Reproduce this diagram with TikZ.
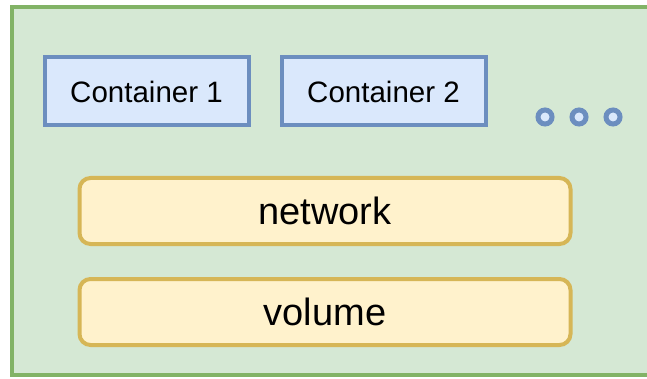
\documentclass[tikz,border=0pt]{standalone}
\usepackage{fontspec}
\setmainfont{Liberation Sans}
\definecolor{hostfill}{HTML}{D5E8D4}
\definecolor{hostline}{HTML}{82B366}
\definecolor{boxfill}{HTML}{DAE8FC}
\definecolor{boxline}{HTML}{6C8EBF}
\definecolor{resfill}{HTML}{FFF2CC}
\definecolor{resline}{HTML}{D6B656}
\begin{document}
\begin{tikzpicture}[x=1pt,y=-1pt,
  host/.style={draw=hostline,fill=hostfill,line width=4pt},
  container/.style={draw=boxline,fill=boxfill,line width=4pt,
    minimum width=204pt,minimum height=68pt,inner sep=0pt,
    font=\fontsize{29.5}{32}\selectfont},
  resource/.style={draw=resline,fill=resfill,line width=4pt,rounded corners=11pt,
    minimum width=491pt,minimum height=66pt,inner sep=0pt,
    font=\fontsize{38}{42}\selectfont},
  dot/.style={circle,draw=boxline,fill=boxfill,line width=5pt,minimum size=14pt,inner sep=0pt}]
\useasboundingbox (0,0) rectangle (647,379);
\clip (0,0) rectangle (647,379);
\fill[white] (0,0) rectangle (647,379);
% host area
\draw[host] (12,7) rectangle (670,375);
% containers
\node[container] (c1) at (146.5,91.5) {Container 1};
\node[container] (c2) at (383.5,91.5) {Container 2};
% more containers
\node[dot] (d1) at (545,117) {};
\node[dot] (d2) at (579,117) {};
\node[dot] (d3) at (613,117) {};
% shared resources
\node[resource] (net) at (325,211) {network};
\node[resource] (vol) at (325,312) {volume};
\end{tikzpicture}
\end{document}
